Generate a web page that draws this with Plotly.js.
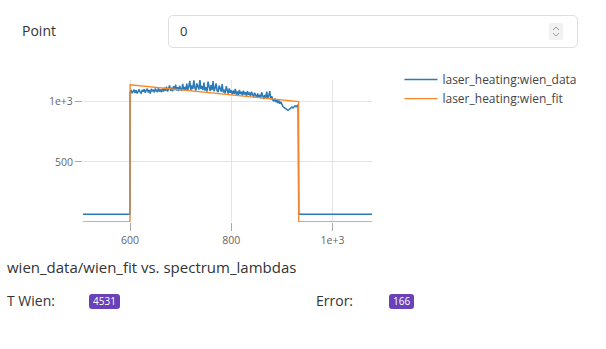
<!DOCTYPE html>
<html><head><meta charset="utf-8">
<script src="https://cdn.plot.ly/plotly-3.0.1.min.js"></script>
<style>
html,body{margin:0;padding:0;background:#fff;width:606px;height:349px;overflow:hidden;font-family:'Open Sans',sans-serif;}
#chart{position:absolute;left:0;top:0;width:606px;height:349px;z-index:1;}
.ui{position:absolute;z-index:2;color:#333;}
.lbl{font-size:14px;line-height:16px;}
.badge{background:#6942b8;color:#fff;font-size:10px;border-radius:3px;padding:0 4px;height:15px;line-height:15px;}
#point-box{left:168px;top:15px;width:410px;height:33px;border:1px solid #dedede;border-radius:5px;box-sizing:border-box;}
#point-val{left:11px;top:7px;font-size:13px;color:#333;position:absolute;line-height:16px;}
#spin{position:absolute;left:380px;top:7px;width:14px;height:17px;background:#f1f1f1;border-radius:2px;}
</style></head>
<body>
<div id="chart"></div>
<div class="ui lbl" id="point-label" style="left:22px;top:23px;">Point</div>
<div class="ui" id="point-box"><span id="point-val">0</span>
<div id="spin"><svg width="14" height="17" viewBox="0 0 14 17"><path d="M4 7 L7 4 L10 7" fill="none" stroke="#999" stroke-width="1"/><path d="M4 10 L7 13 L10 10" fill="none" stroke="#999" stroke-width="1"/></svg></div></div>
<div class="ui lbl" style="left:7px;top:293px;">T Wien:</div>
<div class="ui badge" style="left:89px;top:294px;">4531</div>
<div class="ui lbl" style="left:316px;top:293px;">Error:</div>
<div class="ui badge" style="left:389px;top:294px;">166</div>
<script>
// spectrum window (nm) and measured wien data
const lambdaWindow = [600,602,604,606,608,610,612,614,616,618,620,622,624,626,628,630,632,634,636,638,640,642,644,646,648,650,652,654,656,658,660,662,664,666,668,670,672,674,676,678,680,682,684,686,688,690,692,694,696,698,700,702,704,706,708,710,712,714,716,718,720,722,724,726,728,730,732,734,736,738,740,742,744,746,748,750,752,754,756,758,760,762,764,766,768,770,772,774,776,778,780,782,784,786,788,790,792,794,796,798,800,802,804,806,808,810,812,814,816,818,820,822,824,826,828,830,832,834,836,838,840,842,844,846,848,850,852,854,856,858,860,862,864,866,868,870,872,874,876,878,880,882,884,886,888,890,892,894,896,898,900,902,904,906,908,910,912,914,916,918,920,922,924,926,928,930,932];
const wienData = [1075,1098,1070,1092,1100,1072,1095,1068,1088,1102,1078,1070,1097,1083,1104,1074,1094,1108,1076,1096,1068,1106,1086,1099,1077,1110,1090,1080,1112,1084,1101,1079,1108,
1085,1115,1090,1124,1084,1108,1135,1090,1116,1086,1128,1096,1142,1092,1120,1088,1132,1104,1090,1148,1100,1122,1092,
1150,1098,1126,1172,1094,1135,1104,1178,1118,1092,1152,1112,1100,1182,1106,1130,1096,
1158,1092,1120,1084,1166,1106,1088,1140,1096,1172,1086,1114,1152,1090,1080,1134,1094,
1084,1146,1076,1100,1068,1128,1080,1066,1110,1074,1094,
1062,1092,1066,1106,1058,1084,1054,1098,1064,1082,1050,1092,1060,1078,1048,1088,1056,1076,1044,1082,
1052,1038,1074,1044,1032,1068,1036,1058,1028,1078,1036,1022,1056,1030,1084,1026,1050,1088,1020,1046,1014,
1006,1026,996,1016,988,1010,982,998,970,
960,952,944,938,930,928,934,940,
946,956,948,962,966,958,970,974];
// outside the window
const lambdaOutsideLow = [507, 599.7];
const lambdaOutsideHigh = [933.3, 1078];
const dataOutside = 64;
const fitOutside = 0;
// wien fit
const fitLambdas = [600, 700, 800, 900, 933];
const fitValues = [1140, 1097, 1055, 1014, 1001];
// ticks
const xTicks = [600, 800, 1000];
const yTicks = [500, 1000];

const blueX = lambdaOutsideLow.concat(lambdaWindow, lambdaOutsideHigh);
const blueY = lambdaOutsideLow.map(()=>dataOutside).concat(wienData, lambdaOutsideHigh.map(()=>dataOutside));
const orangeX = lambdaOutsideLow.concat(fitLambdas, lambdaOutsideHigh);
const orangeY = lambdaOutsideLow.map(()=>fitOutside).concat(fitValues, lambdaOutsideHigh.map(()=>fitOutside));

const FONT = "'Open Sans', sans-serif";
const traces = [
  {x: blueX, y: blueY, type:'scatter', mode:'lines', name:'laser_heating:wien_data', line:{color:'#2a7ab8', width:1.5}},
  {x: orangeX, y: orangeY, type:'scatter', mode:'lines', name:'laser_heating:wien_fit', line:{color:'#f7862a', width:1.3}}
];
const layout = {
  width:606, height:349,
  margin:{l:83, r:234, t:80, b:127, pad:0},
  paper_bgcolor:'rgba(0,0,0,0)', plot_bgcolor:'#fff',
  font:{family:FONT, color:'#555', size:10.5},
  title:{text:'wien_data/wien_fit vs. spectrum_lambdas', xref:'container', x:7/606, xanchor:'left', yref:'container', y:1-268/349, yanchor:'middle', font:{size:15, color:'#333', family:FONT}},
  xaxis:{range:[507,1078], tickvals:xTicks, tickformat:'.3~g', showgrid:true, gridcolor:'#e4e4e4', zeroline:false, showline:false, ticks:'outside', ticklen:8, tickcolor:'#aaa', tickfont:{size:10.5,color:'#666'}},
  yaxis:{range:[0,1180], tickvals:yTicks, tickformat:'.3~g', showgrid:true, gridcolor:'#e4e4e4', zeroline:false, showline:false, ticks:'outside', ticklen:7, tickcolor:'#aaa', tickfont:{size:10.5,color:'#666'}},
  showlegend:true,
  legend:{x:1.095, xanchor:'left', y:1.105, yanchor:'top', font:{size:12, color:'#444', family:FONT}, itemwidth:33, bgcolor:'rgba(0,0,0,0)', tracegroupgap:0}
};
Plotly.newPlot('chart', traces, layout, {displayModeBar:false, staticPlot:true});
</script>
</body></html>
